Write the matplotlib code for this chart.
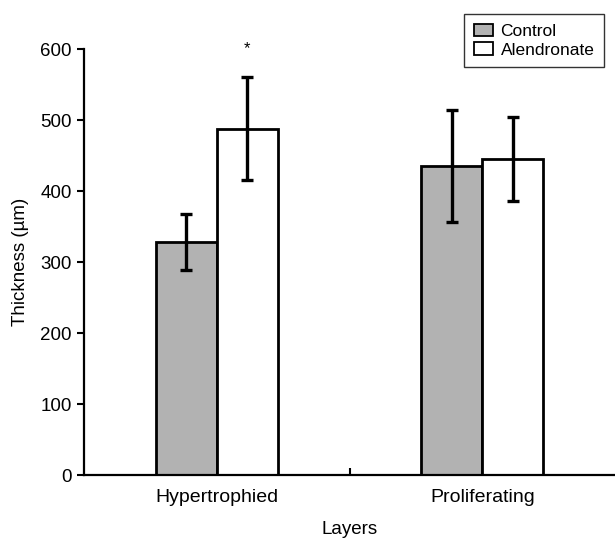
import matplotlib
matplotlib.use("Agg")
import matplotlib.pyplot as plt
import numpy as np

# data
layers = ["Hypertrophied", "Proliferating"]
control_mean = [328, 435]
control_err = [39, 79]
alen_mean = [488, 445]
alen_err = [73, 59]
y_ticks = [0, 100, 200, 300, 400, 500, 600]

plt.rcParams['font.family'] = ['Liberation Sans', 'DejaVu Sans']

fig = plt.figure(figsize=(6.15, 5.38), dpi=100)
ax = fig.add_axes([0.1366, 0.1171, 0.8634, 0.7918])

x = np.arange(len(layers)) + 0.5
w = 0.23
err_kw = dict(elinewidth=2.4, capsize=4.5, capthick=2.4, ecolor='black')

ax.bar(x - w / 2, control_mean, w, yerr=control_err, color='#b2b2b2',
       edgecolor='black', linewidth=2.0, label='Control', error_kw=err_kw, zorder=2)
ax.bar(x + w / 2, alen_mean, w, yerr=alen_err, color='white',
       edgecolor='black', linewidth=2.0, label='Alendronate', error_kw=err_kw, zorder=2)

# significance mark over the hypertrophied alendronate bar
ax.text(x[0] + w / 2, alen_mean[0] + alen_err[0] + 40, '*', ha='center', va='center',
        fontsize=12, clip_on=False)

ax.set_xlim(0, 2)
ax.set_ylim(0, 600)
ax.set_yticks(y_ticks)
ax.set_xticks(x)
ax.set_xticklabels(layers, fontsize=14)
ax.set_xticks([1], minor=True)
ax.tick_params(axis='x', which='major', length=0, pad=10)
ax.tick_params(axis='x', which='minor', direction='in', length=5, width=1.5)
ax.tick_params(axis='y', labelsize=13.5, length=5, width=1.5, pad=4)

for s in ['top', 'right']:
    ax.spines[s].set_visible(False)
for s in ['left', 'bottom']:
    ax.spines[s].set_linewidth(1.6)

ax.set_xlabel('Layers', fontsize=13.5, labelpad=11)
ax.set_ylabel('Thickness (µm)', fontsize=13.5, labelpad=8)

fig.legend(loc='upper right', bbox_to_anchor=(604 / 615, 1 - 14 / 538),
           fontsize=12.5, frameon=True, fancybox=False, edgecolor='black',
           handlelength=1.1, handleheight=0.75, handletextpad=0.45,
           borderpad=0.55, labelspacing=0.2, borderaxespad=0)
leg = fig.legends[0]
leg.get_frame().set_linewidth(1.0)
for p in leg.get_patches():
    p.set_linewidth(1.3)

fig.savefig('out.png', dpi=100)
